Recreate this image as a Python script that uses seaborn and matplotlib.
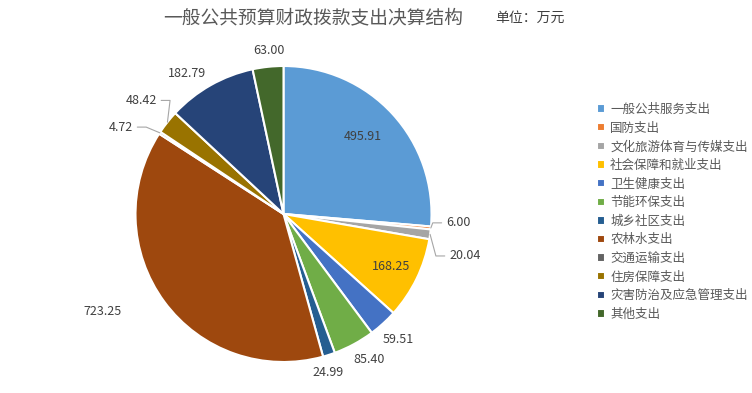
import numpy as np
import matplotlib
matplotlib.use("Agg")
import matplotlib.pyplot as plt
import seaborn as sns

categories = ["一般公共服务支出", "国防支出", "文化旅游体育与传媒支出", "社会保障和就业支出",
              "卫生健康支出", "节能环保支出", "城乡社区支出", "农林水支出",
              "交通运输支出", "住房保障支出", "灾害防治及应急管理支出", "其他支出"]
values = [495.91, 6.00, 20.04, 168.25, 59.51, 85.40, 24.99, 723.25, 4.72, 48.42, 182.79, 63.00]
value_labels = ["495.91", "6.00", "20.04", "168.25", "59.51", "85.40", "24.99", "723.25",
                "4.72", "48.42", "182.79", "63.00"]

colors = ["#5B9BD5", "#ED7D31", "#A5A5A5", "#FFC000", "#4472C4", "#70AD47",
          "#255E91", "#9E480E", "#636363", "#997300", "#264478", "#43682B"]

# label style: (radius factor, angle offset deg, leader line?)
label_style = [(0.75, 2, False), (1.10, 2.3, True), (1.155, -6.3, True), (0.81, 0, False),
               (1.15, 0, False), (1.14, 2, False), (1.11, -2, False), (1.39, -8, False),
               (1.175, 3.3, True), (1.15, -3.5, True), (1.15, 5, False), (1.11, -1, False)]

sns.set_theme(style="white")
plt.rcParams['font.family'] = ['Noto Sans CJK SC', 'DejaVu Sans']

W, H = 752, 393
fig = plt.figure(figsize=(W / 100, H / 100), dpi=100)
cx, cy, r = 283.5, 214, 148
ax = fig.add_axes([(cx - r) / W, (H - cy - r) / H, 2 * r / W, 2 * r / H])
ax.set_axis_off()

wedges, _ = ax.pie(values, colors=colors, startangle=90, counterclock=False, radius=1,
                   wedgeprops=dict(edgecolor="white", linewidth=1.5))
ax.set_xlim(-1, 1)
ax.set_ylim(-1, 1)
ax.set_aspect("auto")

txt_color = "#404040"
line_color = "#A6A6A6"
for w, lab, (rf, off, leader) in zip(wedges, value_labels, label_style):
    mid = np.deg2rad((w.theta1 + w.theta2) / 2)
    ang = mid + np.deg2rad(off)
    tx, ty = rf * np.cos(ang), rf * np.sin(ang)
    if leader:
        sgn = 1 if tx > 0 else -1
        ex, ey = np.cos(mid), np.sin(mid)
        ax.plot([ex, tx - sgn * 0.09, tx - sgn * 0.03], [ey, ty, ty],
                color=line_color, lw=0.8, clip_on=False)
        ax.text(tx, ty, lab, ha="left" if sgn > 0 else "right", va="center",
                fontsize=9, color=txt_color)
    else:
        ax.text(tx, ty, lab, ha="center", va="center", fontsize=9, color=txt_color)

fig.text(313 / W, 1 - 18 / H, "一般公共预算财政拨款支出决算结构", ha="center", va="center",
         fontsize=13.5, color="#595959")
fig.text(495 / W, 1 - 18 / H, "单位：万元", ha="left", va="center", fontsize=10, color="#404040")

leg = fig.legend(wedges, categories, loc="upper left", bbox_to_anchor=(592 / W, 1 - 98 / H),
                 frameon=False, fontsize=9, labelspacing=0.45, handlelength=0.65,
                 handleheight=0.65, handletextpad=0.4, borderaxespad=0)
for t in leg.get_texts():
    t.set_color("#595959")

fig.savefig("out.png", dpi=100, facecolor="white")
